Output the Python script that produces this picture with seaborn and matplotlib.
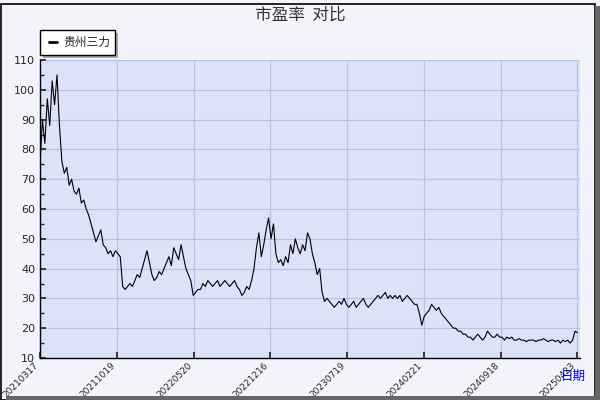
import matplotlib
matplotlib.use("Agg")
import matplotlib.pyplot as plt
import seaborn as sns
import numpy as np
import pandas as pd
from matplotlib.patches import Rectangle

tick_labels = ["20210317", "20211019", "20220520", "20221216", "20230719", "20240221", "20240918", "20250423"]
series_name = "贵州三力"
pe_values = [
    75, 90, 82, 97, 88, 103, 95, 105, 88, 76,
    72, 74, 68, 70, 66, 65, 67, 62, 63, 60, 58,
    55, 52, 49, 51, 53, 48, 47, 45, 46, 44, 46, 45, 44, 34, 33, 34,
    35, 34, 36, 38, 37, 40, 43, 46, 42, 38, 36, 37, 39, 38,
    40, 42, 44, 41, 47, 45, 43, 48, 44, 40, 38, 36, 31, 32, 33,
    33, 35, 34, 36, 35, 34, 35, 36, 34, 35, 36, 35, 34, 35, 36, 34,
    33, 31, 32, 34, 33, 36, 40, 47, 52, 44, 48, 53, 57, 50, 55, 45, 42,
    43, 41, 44, 42, 48, 45, 50, 47, 45, 48, 46, 52, 50, 45, 42, 38, 40, 32, 29,
    30, 29, 28, 27, 28, 29, 28, 30, 28, 27, 28, 29, 27, 28, 29, 30, 28, 27, 28, 29,
    30, 31, 30, 31, 32, 30, 31, 30, 31, 30, 31, 29, 30, 31, 30, 29, 28, 28, 25, 21, 24,
    25, 26, 28, 27, 26, 27, 25, 24, 23, 22, 21, 20, 20, 19,
    19, 18, 18, 17, 17, 16, 17, 18, 17, 16, 17, 19, 18, 17, 17, 18, 17, 17, 16,
    17, 16.5, 17, 16, 16, 16.5, 16, 16, 15.5, 16, 16, 16, 15.5, 16, 16, 16.5, 16, 15.5,
    16, 16, 15.5, 16, 15, 16, 15.5, 16, 15, 16, 19, 18.5,
]

n = len(pe_values)
total = 1050
df = pd.DataFrame({"idx": np.linspace(0, total, n), "pe": pe_values})

sns.set_theme(style="white")
plt.rcParams['font.family'] = ['Noto Sans CJK SC', 'DejaVu Sans']

fig = plt.figure(figsize=(6, 4), dpi=100, facecolor="#f3f4fb")
ax = fig.add_axes([40/600, 42/400, 540/600, 298/400])
ax.set_facecolor("#dce2f7")
sns.lineplot(data=df, x="idx", y="pe", ax=ax, color="black", linewidth=0.8, legend=False)

ax.set_xlim(0, total + 5)
ax.set_ylim(10, 110)
ax.set_yticks(range(10, 111, 10))
ax.set_yticks(range(15, 110, 10), minor=True)
ticks = [i * 150 for i in range(len(tick_labels))]
ax.set_xticks(ticks)
ax.set_xticklabels(tick_labels, rotation=45, ha="right", fontsize=6.5, family="DejaVu Sans")
ax.tick_params(axis="y", labelsize=8, length=4, direction="in", left=True)
ax.tick_params(axis="y", which="minor", length=3, direction="in", left=True)
ax.tick_params(axis="x", length=4, direction="in", bottom=True, pad=2)
for t in ax.get_yticklabels():
    t.set_family("DejaVu Sans")
ax.grid(True, color="#b5c3e8", linewidth=0.8)
for s in ["top", "right"]:
    ax.spines[s].set_visible(False)
for s in ["left", "bottom"]:
    ax.spines[s].set_color("black")
    ax.spines[s].set_linewidth(1)
ax.set_xlabel("")
ax.set_ylabel("")

fig.text(0.5, 0.962, "市盈率  对比", ha="center", va="center", fontsize=12, color="#333333")
fig.text(0.955, 0.06, "日期", ha="center", va="center", fontsize=9, color="#0000cc")

# legend box with shadow (px 40..115, y 30..55)
fig.patches.append(Rectangle((43/600, 1 - 58/400), 75/600, 25/400, transform=fig.transFigure, facecolor="#aaaaaa", edgecolor="none"))
fig.patches.append(Rectangle((40/600, 1 - 55/400), 75/600, 25/400, transform=fig.transFigure, facecolor="white", edgecolor="black", linewidth=1))
fig.lines.append(plt.Line2D([49/600, 57/600], [1 - 42/400, 1 - 42/400], transform=fig.transFigure, color="black", linewidth=2))
fig.text(63/600, 1 - 42/400, series_name, ha="left", va="center", fontsize=8.5)

# outer frame with shadow
fig.patches.append(Rectangle((0.002, 0.0), 0.99, 0.99, transform=fig.transFigure, facecolor="none", edgecolor="black", linewidth=1.2))
fig.patches.append(Rectangle((0.992, 0.0), 0.008, 0.985, transform=fig.transFigure, facecolor="#666666", edgecolor="none"))
fig.patches.append(Rectangle((0.01, 0.0), 0.99, 0.01, transform=fig.transFigure, facecolor="#666666", edgecolor="none"))

fig.savefig("out.png", dpi=100, facecolor=fig.get_facecolor())
